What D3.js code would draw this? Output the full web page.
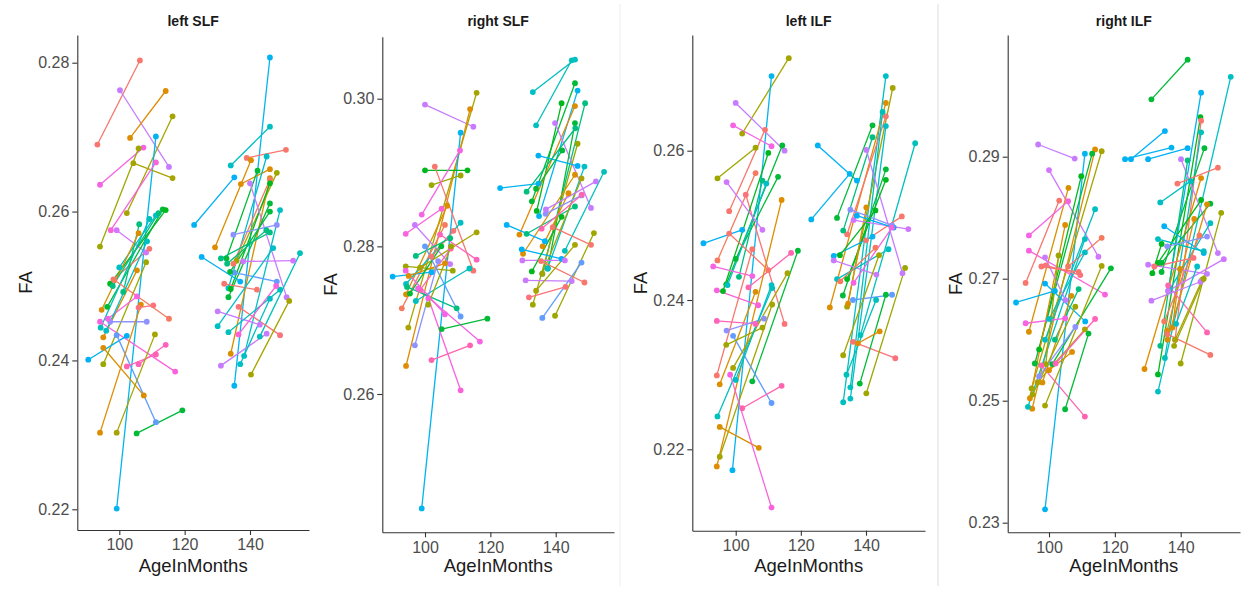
<!DOCTYPE html>
<html><head><meta charset="utf-8">
<script src="https://cdn.jsdelivr.net/npm/d3@7"></script>
<style>
html,body{margin:0;padding:0;background:#fff;}
svg{display:block;font-family:"Liberation Sans",Arial,sans-serif;}
</style></head>
<body>
<svg id="chart" width="1243" height="592"></svg>
<script>
// ---- DATA: each row = [subjectId, age1, FA1, age2, FA2] ----
const panelTitles = ["left SLF", "right SLF", "left ILF", "right ILF"];
const xTicks = [100, 120, 140];
const yTicksLeftSLF = [0.22, 0.24, 0.26, 0.28];
const yTicksRightSLF = [0.26, 0.28, 0.30];
const yTicksLeftILF = [0.22, 0.24, 0.26];
const yTicksRightILF = [0.23, 0.25, 0.27, 0.29];
const nSubjects = 72;

const leftSLF = [
 [1,93.3,.2690,106.3,.2803],[55,100.2,.2763,115.2,.2660],[7,103.3,.2699,114.2,.2762],[15,102.3,.2598,116.3,.2728],
 [43,99.2,.2201,111.2,.2701],[61,94.1,.2636,107.4,.2686],[16,94.1,.2553,105.9,.2685],[15,104.3,.2665,116.3,.2645],
 [62,97.4,.2575,111.2,.2666],[56,99.2,.2575,108.2,.2545],[25,96.3,.2472,113.3,.2603],[24,97.2,.2503,114.2,.2602],
 [1,98.2,.2509,109.2,.2550],[37,100.0,.2525,111.2,.2595],[36,94.3,.2444,109.2,.2590],[30,101.2,.2492,106.1,.2583],
 [8,94.6,.2468,105.9,.2571],[62,94.1,.2452,117.1,.2385],[7,95.1,.2431,105.4,.2521],[8,95.1,.2417,107.5,.2353],
 [16,95.1,.2395,108.2,.2532],[44,90.5,.2401,102.3,.2433],[49,99.2,.2434,111.2,.2317],[51,97.2,.2452,108.4,.2452],
 [67,102.3,.2392,111.2,.2408],[66,105.9,.2395,114.2,.2421],[25,105.3,.2302,119.3,.2333],[7,94.1,.2303,106.6,.2475],
 [15,99.2,.2303,110.9,.2435],[2,98.5,.2508,115.2,.2456],[72,105.9,.2471,110.4,.2474],[61,96.5,.2456,105.4,.2486],
 [30,98.0,.2500,112.0,.2598],[37,96.0,.2440,108.5,.2560],
 [43,135.2,.2366,146.1,.2807],[37,134.1,.2662,146.1,.2714],[1,139.0,.2672,151.0,.2683],[44,122.9,.2582,135.2,.2646],
 [7,129.3,.2552,140.3,.2669],[8,134.1,.2409,146.1,.2645],[7,137.2,.2637,146.1,.2657],[37,133.4,.2497,145.1,.2674],
 [25,132.8,.2537,142.3,.2655],[16,135.9,.2534,148.2,.2652],[2,134.9,.2530,146.1,.2643],[24,134.1,.2496,146.1,.2638],
 [55,140.0,.2638,151.2,.2485],[25,133.4,.2485,146.1,.2611],[37,138.2,.2406,149.2,.2602],[51,134.9,.2569,148.2,.2582],
 [30,131.1,.2537,146.1,.2572],[44,125.2,.2539,137.0,.2506],[36,143.0,.2432,155.3,.2544],[56,137.9,.2533,153.2,.2534],
 [1,132.1,.2503,142.1,.2495],[49,135.2,.2518,148.2,.2506],[37,130.1,.2446,147.1,.2551],[72,136.5,.2472,149.2,.2434],
 [55,130.1,.2466,143.0,.2448],[36,133.4,.2438,149.2,.2495],[62,136.5,.2435,148.0,.2500],[55,131.1,.2393,145.1,.2436],
 [15,140.3,.2381,152.0,.2480],[37,137.0,.2395,146.1,.2483],[25,133.9,.2519,146.1,.2600],[30,133.0,.2530,145.0,.2575]
];

const rightSLF = [
 [55,100.0,.2992,114.8,.2962],[15,94.9,.2690,115.8,.3008],[7,94.2,.2638,113.8,.2986],[43,99.0,.2445,110.9,.2954],
 [24,100.0,.2903,113.0,.2903],[1,103.0,.2908,114.8,.2767],[16,102.0,.2883,110.9,.2896],[61,99.0,.2843,110.7,.2930],
 [8,94.2,.2735,106.8,.2855],[55,96.9,.2829,107.7,.2776],[62,94.1,.2817,105.1,.2851],[2,92.9,.2716,106.1,.2829],
 [37,94.2,.2749,110.9,.2832],[15,98.5,.2771,115.8,.2819],[1,102.0,.2786,108.7,.2821],[67,98.5,.2741,107.9,.2797],
 [30,97.2,.2787,107.7,.2811],[44,90.1,.2759,102.0,.2765],[16,94.1,.2773,108.5,.2767],[7,95.0,.2760,106.1,.2777],
 [25,95.4,.2736,105.0,.2800],[36,97.2,.2726,113.6,.2770],[61,97.9,.2743,116.8,.2671],[62,101.0,.2730,110.9,.2605],
 [25,105.1,.2688,119.1,.2702],[67,102.0,.2646,113.8,.2666],[51,96.9,.2666,104.0,.2780],[49,100.0,.2800,110.9,.2705],
 [61,94.1,.2767,106.1,.2708],[30,94.5,.2745,109.7,.2716],[16,101.0,.2721,108.0,.2800],[66,104.6,.2816,115.8,.2782],
 [37,133.0,.3009,145.9,.3053],[36,134.0,.2964,144.9,.3052],[43,134.9,.2841,146.7,.3011],[25,132.7,.2861,145.9,.3021],
 [24,134.2,.2848,141.8,.2994],[30,135.9,.2763,149.0,.2994],[7,128.9,.2816,145.9,.2990],[55,139.8,.2967,150.8,.2852],
 [25,137.6,.2770,145.9,.2967],[16,133.0,.2721,146.7,.2939],[44,134.7,.2923,146.7,.2909],[37,137.5,.2770,148.8,.2908],
 [43,123.0,.2879,134.7,.2885],[30,131.1,.2817,145.9,.2854],[8,130.0,.2790,145.9,.2897],[15,135.9,.2763,147.9,.2892],
 [7,136.0,.2800,143.9,.2872],[51,136.9,.2844,147.9,.2869],[36,142.8,.2794,154.8,.2901],[55,137.0,.2850,152.3,.2888],
 [44,125.0,.2829,136.7,.2807],[1,139.1,.2826,150.8,.2802],[16,139.8,.2706,151.7,.2818],[44,129.6,.2796,141.8,.2783],
 [56,129.8,.2781,142.8,.2781],[55,130.8,.2754,144.9,.2753],[72,131.8,.2731,143.0,.2745],[1,135.5,.2780,148.8,.2751],
 [49,135.9,.2703,147.9,.2778],[15,134.0,.2740,145.9,.2802],[67,135.7,.2824,148.0,.2870],[24,132.7,.2766,141.8,.2840],
 [25,134.0,.2878,142.0,.2930],[30,131.1,.2874,146.0,.2960]
];

const leftILF = [
 [15,102.0,.2623,116.3,.2724],[43,99.0,.2172,111.0,.2700],[55,100.0,.2664,115.0,.2600],[61,99.2,.2634,111.0,.2606],
 [1,98.0,.2519,109.0,.2628],[2,94.4,.2453,106.1,.2570],[72,103.1,.2541,115.0,.2368],[16,94.4,.2563,106.1,.2604],
 [25,97.1,.2421,114.3,.2607],[24,96.1,.2412,110.0,.2597],[25,100.0,.2455,113.0,.2565],[30,101.0,.2431,108.2,.2560],
 [37,97.5,.2420,109.4,.2556],[56,97.2,.2558,108.2,.2494],[44,90.1,.2476,102.0,.2494],[61,93.1,.2445,105.1,.2432],
 [1,98.0,.2489,110.0,.2440],[67,103.9,.2417,117.0,.2463],[25,105.1,.2291,119.1,.2466],[7,94.2,.2177,114.1,.2534],
 [15,95.1,.2190,111.2,.2394],[62,94.2,.2413,106.9,.2393],[8,95.1,.2287,106.1,.2411],[36,94.4,.2244,111.2,.2416],
 [66,94.2,.2372,106.1,.2368],[51,97.2,.2359,108.7,.2375],[49,99.2,.2352,111.0,.2262],[16,97.1,.2340,108.2,.2363],
 [15,99.2,.2309,115.9,.2436],[1,94.2,.2299,105.1,.2468],[37,100.0,.2293,111.0,.2420],[8,95.1,.2230,107.1,.2202],
 [62,98.3,.2300,111.0,.2122],[67,102.0,.2255,114.1,.2285],
 [44,125.2,.2607,137.2,.2560],[43,123.2,.2508,135.0,.2569],[37,133.0,.2263,146.1,.2700],[15,134.2,.2391,148.2,.2684],
 [7,128.9,.2390,146.1,.2664],[1,134.2,.2488,146.1,.2646],[36,135.2,.2283,145.1,.2652],[25,131.1,.2510,142.0,.2634],
 [37,135.2,.2268,146.1,.2633],[30,133.0,.2493,142.0,.2618],[36,138.3,.2353,155.1,.2610],[55,140.1,.2601,151.2,.2436],
 [25,132.9,.2406,146.1,.2575],[24,134.2,.2428,146.1,.2561],[8,134.5,.2395,140.1,.2524],[51,135.2,.2521,148.0,.2500],
 [56,136.2,.2507,153.0,.2495],[1,140.0,.2480,151.0,.2512],[44,137.2,.2513,148.5,.2497],[43,130.1,.2459,142.0,.2485],
 [55,130.1,.2453,143.2,.2434],[37,131.1,.2428,146.9,.2468],[61,136.2,.2423,148.0,.2497],[2,132.1,.2425,142.9,.2470],
 [49,136.0,.2400,148.0,.2407],[36,134.0,.2300,143.1,.2400],[72,136.0,.2344,149.0,.2322],[16,140.1,.2275,152.0,.2443],
 [25,138.1,.2288,146.1,.2407],[15,133.0,.2326,144.0,.2460],[7,137.5,.2342,144.2,.2358],[24,132.0,.2460,142.9,.2520]
];

const rightILF = [
 [55,96.7,.2920,107.8,.2897],[56,100.0,.2878,115.0,.2736],[43,98.8,.2322,110.9,.2905],[7,94.9,.2487,114.0,.2912],
 [25,95.7,.2561,113.1,.2905],[15,94.7,.2520,116.0,.2909],[24,97.0,.2584,109.8,.2868],[8,93.9,.2613,105.9,.2849],
 [1,92.9,.2693,103.1,.2828],[61,93.9,.2771,105.8,.2827],[37,98.8,.2600,114.0,.2814],[7,94.2,.2504,104.9,.2788],
 [62,93.9,.2746,117.0,.2674],[2,105.8,.2720,116.0,.2767],[36,93.6,.2490,110.9,.2765],[37,100.0,.2634,110.9,.2743],
 [55,98.8,.2735,105.0,.2665],[16,99.0,.2560,102.9,.2738],[1,97.7,.2720,109.0,.2711],[72,99.0,.2722,109.5,.2706],
 [44,98.8,.2692,111.0,.2630],[43,90.0,.2661,101.8,.2680],[30,101.8,.2600,109.0,.2683],[25,101.0,.2560,118.8,.2717],
 [15,98.8,.2492,116.0,.2721],[67,97.7,.2558,110.9,.2474],[8,98.0,.2530,106.8,.2672],[61,92.9,.2627,104.9,.2635],
 [16,95.0,.2510,108.0,.2654],[51,97.0,.2540,108.0,.2621],[14,96.5,.2530,110.9,.2617],[66,102.0,.2561,114.0,.2634],
 [25,104.9,.2486,112.0,.2610],[8,100.0,.2550,107.0,.2580],
 [25,131.1,.2994,142.1,.3059],[37,133.1,.2515,155.2,.3031],[43,136.2,.2680,146.2,.3005],[24,133.1,.2543,146.0,.2965],
 [1,138.3,.2600,146.2,.2959],[36,135.2,.2570,146.2,.2940],[44,124.9,.2896,135.2,.2942],[43,123.1,.2896,137.2,.2915],
 [44,130.1,.2896,142.1,.2914],[25,134.2,.2711,147.2,.2914],[55,140.1,.2896,151.3,.2742],[30,133.8,.2590,142.1,.2894],
 [1,139.0,.2856,151.3,.2882],[37,133.8,.2825,143.0,.2860],[7,129.0,.2552,146.2,.2865],[24,133.1,.2726,146.2,.2829],
 [25,134.2,.2726,149.0,.2823],[8,136.0,.2600,148.0,.2822],[16,140.0,.2561,152.3,.2808],[36,136.7,.2683,149.0,.2791],
 [7,135.9,.2615,144.1,.2798],[44,135.0,.2786,147.0,.2742],[2,135.0,.2630,145.7,.2771],[37,133.1,.2765,147.0,.2745],
 [51,135.9,.2753,148.0,.2769],[55,130.1,.2723,148.0,.2708],[24,131.4,.2709,134.2,.2757],[72,132.0,.2720,143.9,.2734],
 [8,137.5,.2620,139.8,.2716],[56,136.2,.2680,153.1,.2732],[15,138.3,.2600,146.5,.2698],[67,136.2,.2689,148.0,.2612],
 [55,131.1,.2664,146.0,.2695],[1,135.9,.2609,149.0,.2575],[37,138.6,.2626,145.0,.2720],[16,138.0,.2590,147.0,.2700]
];

// ---- layout (pixel geometry, not data) ----
const panels = [
 {title: panelTitles[0], data: leftSLF,  yTicks: yTicksLeftSLF,  left: 77.3,  right: 309, top: 35,   bottom: 530,   yA: [0.28, 62.7, 0.22, 509.3], xA: [100, 119.3, 140, 250]},
 {title: panelTitles[1], data: rightSLF, yTicks: yTicksRightSLF, left: 382.3, right: 614, top: 36.7, bottom: 532.3, yA: [0.30, 98.7, 0.26, 394],   xA: [100, 425, 140, 555.7]},
 {title: panelTitles[2], data: leftILF,  yTicks: yTicksLeftILF,  left: 692.3, right: 925, top: 35,   bottom: 530.7, yA: [0.26, 150.7, 0.22, 449.3], xA: [100, 735.7, 140, 866]},
 {title: panelTitles[3], data: rightILF, yTicks: yTicksRightILF, left: 1007.7, right: 1240, top: 35, bottom: 532.3, yA: [0.25, 400.7, 0.23, 522.7], xA: [100, 1049, 140, 1180.7]}
];

// R-style hcl (polar Luv) -> sRGB, like ggplot2's hue palette
function hclR(h, c, l) {
  const hr = h * Math.PI / 180;
  const U = c * Math.cos(hr), V = c * Math.sin(hr);
  const Xn = 95.047, Yn = 100, Zn = 108.883;
  const den = Xn + 15 * Yn + 3 * Zn;
  const un = 4 * Xn / den, vn = 9 * Yn / den;
  const Y = Yn * (l > 7.999592 ? Math.pow((l + 16) / 116, 3) : l / 903.3);
  const u = U / (13 * l) + un, v = V / (13 * l) + vn;
  const X = Y * 9 * u / (4 * v);
  const Z = Y * (12 - 3 * u - 20 * v) / (4 * v);
  const x = X / 100, y = Y / 100, z = Z / 100;
  let r = 3.240479 * x - 1.537150 * y - 0.498535 * z;
  let g = -0.969256 * x + 1.875992 * y + 0.041556 * z;
  let b = 0.055648 * x - 0.204043 * y + 1.057311 * z;
  const gam = t => { t = t <= 0.0031308 ? 12.92 * t : 1.055 * Math.pow(t, 1 / 2.4) - 0.055; return Math.round(255 * Math.max(0, Math.min(1, t))); };
  return d3.rgb(gam(r), gam(g), gam(b)).formatHex();
}
const subjectColor = d3.scaleOrdinal()
  .domain(d3.range(1, nSubjects + 1))
  .range(d3.range(nSubjects).map(i => hclR(15 + i * 360 / nSubjects, 100, 65)));

const svg = d3.select("#chart");
svg.append("rect").attr("width", 1243).attr("height", 592).attr("fill", "#fff");

// faint separators between image panels
[[620, "#f1f1f1"], [938, "#e2e2e2"]].forEach(([x, c]) => {
  svg.append("line").attr("x1", x).attr("x2", x).attr("y1", 4).attr("y2", 586)
    .attr("stroke", c).attr("stroke-width", 1.2);
});

const fmt = d3.format(".2f");

panels.forEach(p => {
  const y = d3.scaleLinear().domain([p.yA[2], p.yA[0]]).range([p.yA[3], p.yA[1]]);
  y.domain([y.invert(p.bottom), y.invert(p.top)]).range([p.bottom, p.top]);
  const x = d3.scaleLinear().domain([p.xA[0], p.xA[2]]).range([p.xA[1], p.xA[3]]);
  x.domain([x.invert(p.left), x.invert(p.right)]).range([p.left, p.right]);

  const g = svg.append("g");

  // lines
  g.append("g").selectAll("line").data(p.data).join("line")
    .attr("x1", d => x(d[1])).attr("y1", d => y(d[2]))
    .attr("x2", d => x(d[3])).attr("y2", d => y(d[4]))
    .attr("stroke", d => subjectColor(d[0])).attr("stroke-width", 1.3);
  // points
  const pts = p.data.flatMap(d => [[d[0], d[1], d[2]], [d[0], d[3], d[4]]]);
  g.append("g").selectAll("circle").data(pts).join("circle")
    .attr("cx", d => x(d[1])).attr("cy", d => y(d[2])).attr("r", 2.9)
    .attr("fill", d => subjectColor(d[0]));

  // axes
  const ya = g.append("g").attr("transform", `translate(${p.left},0)`)
    .call(d3.axisLeft(y).tickValues(p.yTicks).tickFormat(fmt).tickSize(5).tickSizeOuter(0).tickPadding(3));
  const xa = g.append("g").attr("transform", `translate(0,${p.bottom})`)
    .call(d3.axisBottom(x).tickValues(xTicks).tickSize(5).tickSizeOuter(0).tickPadding(3));
  [ya, xa].forEach(a => {
    a.select(".domain").attr("stroke", "#333").attr("stroke-width", 1.1);
    a.selectAll(".tick line").attr("stroke", "#333").attr("stroke-width", 1.1);
    a.selectAll(".tick text").attr("fill", "#4d4d4d").style("font-size", "16px")
      .style("font-family", '"Liberation Sans",Arial,sans-serif');
  });
  xa.selectAll(".tick text").attr("dy", "0.78em");

  // titles
  const cx = (p.left + p.right) / 2;
  g.append("text").attr("x", cx).attr("y", 25.5).attr("text-anchor", "middle")
    .style("font-size", "14px").style("font-weight", "bold").attr("fill", "#1a1a1a").text(p.title);
  g.append("text").attr("x", cx).attr("y", 572).attr("text-anchor", "middle")
    .style("font-size", "18.5px").attr("fill", "#1a1a1a").text("AgeInMonths");
  g.append("text").attr("transform", `translate(${p.left - 45.5},${(p.top + p.bottom) / 2}) rotate(-90)`)
    .attr("text-anchor", "middle").style("font-size", "18.5px").attr("fill", "#1a1a1a").text("FA");
});
</script>
</body></html>
